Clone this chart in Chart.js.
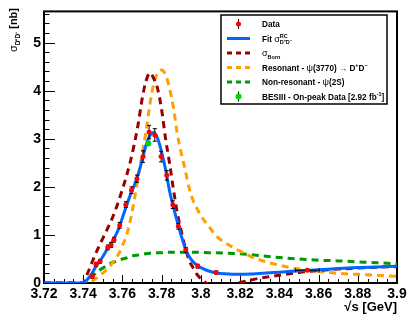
<!DOCTYPE html>
<html>
<head>
<meta charset="utf-8">
<script src="https://cdn.jsdelivr.net/npm/chart.js@4.4.0/dist/chart.umd.min.js"></script>
<style>
html, body { margin: 0; padding: 0; background: #fff; }
#wrap { width: 420px; height: 319px; }
</style>
</head>
<body>
<div id="wrap"><canvas id="xsecChart" width="420" height="319"></canvas></div>
<script>
// Measured points (sqrt(s) in GeV, sigma in nb)
var dataX    = [3.7447, 3.7465, 3.7486, 3.7525, 3.7542, 3.7557, 3.7586, 3.7617, 3.7646, 3.7674, 3.7705,
                3.7736, 3.7765, 3.7797, 3.7826, 3.7857, 3.7885, 3.7923, 3.7984, 3.8078, 3.8543];
var dataY    = [0.14, 0.39, 0.45, 0.74, 0.79, 0.90, 1.20, 1.63, 1.93, 2.17, 2.63,
                3.14, 3.08, 2.63, 2.24, 1.63, 1.18, 0.69, 0.35, 0.22, 0.265];
var dataErrY = [0.04, 0.04, 0.04, 0.05, 0.05, 0.05, 0.06, 0.06, 0.07, 0.075, 0.12,
                0.14, 0.13, 0.11, 0.10, 0.08, 0.06, 0.05, 0.04, 0.03, 0.02];
var dataErrX = [0, 0, 0, 0, 0, 0, 0, 0, 0, 0, 0,
                0, 0, 0, 0, 0, 0, 0, 0, 0, 0.006];

// BESIII on-peak point
var besX = [3.7732];
var besY = [2.90];
var besErr = [0.03];

var curveX = [3.72, 3.73, 3.74, 3.742, 3.744, 3.746, 3.748, 3.75, 3.752, 3.754, 3.756, 3.758,
              3.76, 3.762, 3.764, 3.766, 3.768, 3.77, 3.772, 3.774, 3.776, 3.778, 3.78, 3.782,
              3.784, 3.786, 3.788, 3.79, 3.792, 3.794, 3.796, 3.798, 3.8, 3.804, 3.808, 3.812,
              3.816, 3.82, 3.825, 3.83, 3.84, 3.85, 3.86, 3.87, 3.88, 3.89, 3.9];
var fitY   = [0, 0, 0, 0.07, 0.17, 0.31, 0.43, 0.55, 0.69, 0.81, 0.95, 1.12,
              1.36, 1.60, 1.83, 2.03, 2.26, 2.55, 2.86, 3.07, 3.13, 3.00, 2.72, 2.36,
              1.92, 1.58, 1.27, 0.98, 0.73, 0.55, 0.44, 0.37, 0.32, 0.25, 0.21, 0.19,
              0.18, 0.18, 0.185, 0.20, 0.225, 0.255, 0.275, 0.30, 0.32, 0.335, 0.35];
var bornY  = [0, 0, 0, 0.18, 0.38, 0.58, 0.76, 0.93, 1.10, 1.27, 1.47, 1.70,
              1.95, 2.22, 2.52, 2.88, 3.30, 3.82, 4.20, 4.37, 4.25, 4.03, 3.60, 3.00,
              2.50, 1.95, 1.45, 1.08, 0.74, 0.47, 0.32, 0.18, 0.09, -0.03, -0.06, -0.06,
              -0.03, 0.01, 0.06, 0.10, 0.16, 0.22, 0.26, 0.29, 0.31, 0.33, 0.34];
var resY   = [0, 0, 0, 0, 0.03, 0.08, 0.14, 0.21, 0.28, 0.37, 0.48, 0.60,
              0.78, 0.98, 1.30, 1.72, 2.20, 2.68, 3.15, 3.72, 4.15, 4.37, 4.43, 4.33,
              4.05, 3.65, 3.10, 2.70, 2.35, 1.98, 1.72, 1.55, 1.40, 1.18, 0.97, 0.85,
              0.75, 0.66, 0.56, 0.48, 0.37, 0.29, 0.24, 0.20, 0.18, 0.16, 0.14];
var nonResY = [0, 0, 0, 0.04, 0.12, 0.19, 0.26, 0.31, 0.36, 0.41, 0.44, 0.47,
              0.50, 0.52, 0.55, 0.57, 0.58, 0.60, 0.61, 0.62, 0.62, 0.63, 0.63, 0.64,
              0.64, 0.64, 0.64, 0.64, 0.64, 0.64, 0.64, 0.64, 0.635, 0.63, 0.63, 0.62,
              0.615, 0.61, 0.59, 0.57, 0.53, 0.50, 0.475, 0.46, 0.44, 0.42, 0.40];

// Axis ticks
var xTicks = [3.72, 3.74, 3.76, 3.78, 3.8, 3.82, 3.84, 3.86, 3.88, 3.9];
var yTicks = [0, 1, 2, 3, 4, 5];

var FONT = '"Liberation Sans", Arial, sans-serif';
var BLUE = 'rgb(0,102,255)';
var DKRED = 'rgb(153,0,0)';
var ORANGE = 'rgb(255,160,0)';
var GREEN = 'rgb(0,153,0)';
var LGREEN = 'rgb(0,215,0)';

function pts(xs, ys) {
	return xs.map(function(x, i) { return {x: x, y: ys[i]}; });
}

//Dibuja texto con subindices y superindices
function drawRich(ctx, x, y, parts, measureOnly) {
	var x0 = x;
	parts.forEach(function(p) {
		ctx.font = p.font;
		if (p.sup !== undefined || p.sub !== undefined) {
			var w1 = p.sup ? ctx.measureText(p.sup).width : 0;
			var w2 = p.sub ? ctx.measureText(p.sub).width : 0;
			if (!measureOnly) {
				if (p.sup) ctx.fillText(p.sup, x, y - (p.supShift || 4));
				if (p.sub) ctx.fillText(p.sub, x, y + (p.subShift || 2.5));
			}
			x += Math.max(w1, w2);
		} else {
			if (!measureOnly) ctx.fillText(p.t, x, y + (p.dy || 0));
			x += ctx.measureText(p.t).width;
		}
	});
	return x - x0;
}

var LB = 'bold 8.2px ' + FONT;
var LS = 'bold 5.5px ' + FONT;
var LG = '9px ' + FONT;
var legendRows = [
	{kind: 'data', parts: [{t: 'Data', font: LB}]},
	{kind: 'line', color: BLUE, parts: [{t: 'Fit ', font: LB}, {t: 'σ', font: LG},
		{sup: 'RC', sub: 'D⁺D⁻', font: LS, supShift: 3.5, subShift: 2.5}]},
	{kind: 'dash', color: DKRED, parts: [{t: 'σ', font: LG}, {sub: 'Born', font: LS, subShift: 3}]},
	{kind: 'dash', color: ORANGE, parts: [{t: 'Resonant - ', font: LB}, {t: 'ψ', font: LG},
		{t: '(3770) → D', font: LB}, {sup: '+', font: LS}, {t: 'D', font: LB}, {sup: '−', font: LS}]},
	{kind: 'dash', color: GREEN, parts: [{t: 'Non-resonant - ', font: LB}, {t: 'ψ', font: LG},
		{t: '(2S)', font: LB}]},
	{kind: 'bes', parts: [{t: 'BESIII - On-peak Data [2.92 fb', font: LB}, {sup: '-1', font: LS},
		{t: ']', font: LB}]}
];

var rootStyle = {
	id: 'rootStyle',
	beforeDatasetsDraw: function(chart) {
		var ctx = chart.ctx, a = chart.chartArea;
		var sx = chart.scales.x, sy = chart.scales.y;
		ctx.save();
		ctx.strokeStyle = '#000';
		ctx.lineWidth = 1;
		//Ticks menores y mayores hacia dentro
		for (var i = 0; i <= 36; i++) {
			var v = 3.72 + i * 0.005;
			var px = Math.round(sx.getPixelForValue(v)) + 0.5;
			var len = (i % 4 === 0) ? 8 : 4;
			ctx.beginPath(); ctx.moveTo(px, a.bottom); ctx.lineTo(px, a.bottom - len); ctx.stroke();
		}
		for (var j = 0; j * 0.2 <= sy.max + 1e-9; j++) {
			var py = Math.round(sy.getPixelForValue(j * 0.2)) + 0.5;
			var ln = (j % 5 === 0) ? 11 : 5.5;
			ctx.beginPath(); ctx.moveTo(a.left, py); ctx.lineTo(a.left + ln, py); ctx.stroke();
		}
		ctx.lineWidth = 2;
		ctx.strokeRect(a.left, a.top, a.right - a.left, a.bottom - a.top);
		ctx.restore();
	},
	beforeDatasetDraw: function(chart, args) {
		var ds = chart.data.datasets[args.index];
		if (!ds.errY) return;
		var ctx = chart.ctx, sx = chart.scales.x, sy = chart.scales.y;
		ctx.save();
		ctx.strokeStyle = '#000';
		ctx.lineWidth = 1;
		ds.data.forEach(function(p, i) {
			var px = sx.getPixelForValue(p.x), py = sy.getPixelForValue(p.y);
			var y1 = sy.getPixelForValue(p.y + ds.errY[i]), y2 = sy.getPixelForValue(p.y - ds.errY[i]);
			ctx.beginPath();
			ctx.moveTo(px, y1); ctx.lineTo(px, y2);
			ctx.moveTo(px - 2, y1); ctx.lineTo(px + 2, y1);
			ctx.moveTo(px - 2, y2); ctx.lineTo(px + 2, y2);
			if (ds.errX && ds.errX[i] > 0) {
				var x1 = sx.getPixelForValue(p.x - ds.errX[i]), x2 = sx.getPixelForValue(p.x + ds.errX[i]);
				ctx.moveTo(x1, py); ctx.lineTo(x2, py);
				ctx.moveTo(x1, py - 2); ctx.lineTo(x1, py + 2);
				ctx.moveTo(x2, py - 2); ctx.lineTo(x2, py + 2);
			}
			ctx.stroke();
		});
		ctx.restore();
	},
	afterDatasetsDraw: function(chart) {
		var ctx = chart.ctx;
		ctx.save();
		//Leyenda
		var left = 221, top = 15, right = 387, bottom = 104;
		ctx.fillStyle = '#fff';
		ctx.fillRect(left, top, right - left, bottom - top);
		ctx.strokeStyle = '#000';
		ctx.lineWidth = 1.5;
		ctx.strokeRect(left, top, right - left, bottom - top);
		legendRows.forEach(function(r, i) {
			var cy = 24 + i * 14.5;
			var sx0 = 227, sx1 = 250, mx = 238.5;
			ctx.setLineDash([]);
			if (r.kind === 'data' || r.kind === 'bes') {
				ctx.strokeStyle = '#000'; ctx.lineWidth = 1;
				ctx.beginPath(); ctx.moveTo(mx, cy - 5); ctx.lineTo(mx, cy + 5); ctx.stroke();
				ctx.fillStyle = r.kind === 'data' ? '#ff0000' : LGREEN;
				ctx.beginPath(); ctx.arc(mx, cy, r.kind === 'data' ? 2.5 : 3, 0, Math.PI * 2); ctx.fill();
			} else {
				ctx.strokeStyle = r.color; ctx.lineWidth = 3;
				if (r.kind === 'dash') ctx.setLineDash([5, 4]);
				ctx.beginPath(); ctx.moveTo(sx0, cy); ctx.lineTo(sx1, cy); ctx.stroke();
			}
			ctx.setLineDash([]);
			ctx.fillStyle = '#000';
			ctx.textBaseline = 'alphabetic';
			ctx.textAlign = 'left';
			drawRich(ctx, 262, cy + 3, r.parts);
		});
		//Titulo del eje Y
		var yParts = [{t: 'σ', font: '11px ' + FONT}, {sub: 'D⁺D⁻', font: 'bold 6.5px ' + FONT, subShift: 2.5},
			{t: ' [nb]', font: 'bold 11px ' + FONT}];
		var w = drawRich(ctx, 0, 0, yParts, true);
		ctx.translate(17, 8 + w);
		ctx.rotate(-Math.PI / 2);
		ctx.fillStyle = '#000';
		drawRich(ctx, 0, 0, yParts);
		ctx.restore();
	}
};

var lineDefaults = {type: 'line', pointRadius: 0, borderWidth: 3, fill: false, cubicInterpolationMode: 'monotone'};

var datasets = [
	Object.assign({}, lineDefaults, {label: 'Non-resonant', data: pts(curveX, nonResY), borderColor: GREEN, borderDash: [7, 5], order: 6}),
	Object.assign({}, lineDefaults, {label: 'Resonant', data: pts(curveX, resY), borderColor: ORANGE, borderDash: [7, 5], order: 5}),
	Object.assign({}, lineDefaults, {label: 'Born', data: pts(curveX, bornY), borderColor: DKRED, borderDash: [7, 5], order: 4}),
	Object.assign({}, lineDefaults, {label: 'Fit', data: pts(curveX, fitY), borderColor: BLUE, order: 3}),
	{type: 'scatter', label: 'Data', data: pts(dataX, dataY), errY: dataErrY, errX: dataErrX,
		pointRadius: 2.5, pointBackgroundColor: '#ff0000', pointBorderWidth: 0, order: 2},
	{type: 'scatter', label: 'BESIII', data: pts(besX, besY), errY: besErr,
		pointRadius: 3, pointBackgroundColor: LGREEN, pointBorderWidth: 0, order: 1}
];

var ctx = document.getElementById('xsecChart').getContext('2d');
var chart = new Chart(ctx, {
	type: 'scatter',
	data: {datasets: datasets},
	options: {
		responsive: false,
		animation: false,
		devicePixelRatio: 1,
		layout: {padding: {left: 0, right: 23, top: 8, bottom: 0}},
		plugins: {legend: {display: false}, tooltip: {enabled: false}},
		scales: {
			x: {
				type: 'linear', min: 3.72, max: 3.9,
				afterBuildTicks: function(s) { s.ticks = xTicks.map(function(v) { return {value: v}; }); },
				afterFit: function(s) { s.height = 36; },
				grid: {display: false, drawTicks: false},
				border: {display: false},
				ticks: {
					color: '#000', padding: 3, maxRotation: 0, autoSkip: false,
					font: {family: FONT, weight: 'bold', size: 14},
					callback: function(v) { return String(+v.toFixed(2)); }
				},
				title: {display: true, text: '√s [GeV]', align: 'end', color: '#000',
					font: {family: FONT, weight: 'bold', size: 13}, padding: {top: 0, bottom: 4}}
			},
			y: {
				type: 'linear', min: 0, max: 5.65,
				afterBuildTicks: function(s) { s.ticks = yTicks.map(function(v) { return {value: v}; }); },
				afterFit: function(s) { s.width = 44; },
				grid: {display: false, drawTicks: false},
				border: {display: false},
				ticks: {color: '#000', padding: 3, font: {family: FONT, weight: 'bold', size: 14}}
			}
		}
	},
	plugins: [rootStyle]
});
</script>
</body>
</html>
